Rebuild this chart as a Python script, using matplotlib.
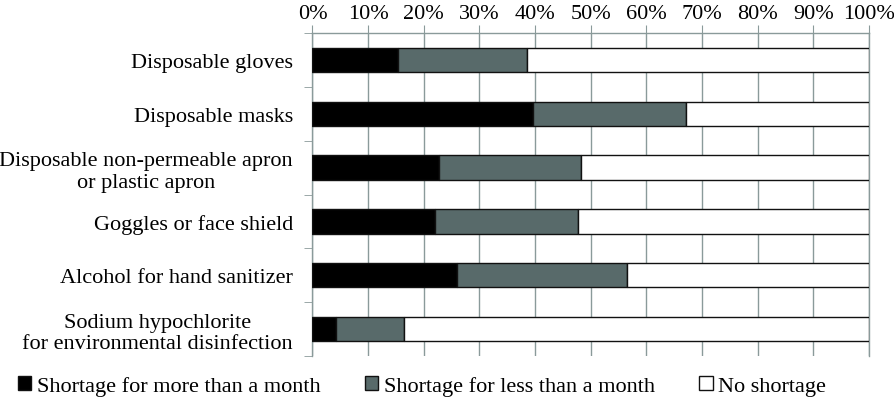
import numpy as np
import matplotlib
matplotlib.use('Agg')
import matplotlib.pyplot as plt
from matplotlib.patches import Patch

plt.rcParams['font.family'] = ['Liberation Serif', 'DejaVu Serif']

# data (percent of respondents)
items = ['Disposable gloves',
         'Disposable masks',
         'Disposable non-permeable apron\nor plastic apron',
         'Goggles or face shield',
         'Alcohol for hand sanitizer',
         'Sodium hypochlorite\nfor environmental disinfection']
more_month = [15.3, 39.6, 22.7, 22.1, 25.9, 4.3]
less_month = [23.2, 27.6, 25.5, 25.6, 30.7, 12.2]
no_short = [100 - a - b for a, b in zip(more_month, less_month)]
series_names = ['Shortage for more than a month',
                'Shortage for less than a month',
                'No shortage']
colors = ['#000000', '#586a6a', '#ffffff']


def main():
    fig = plt.figure(figsize=(8.95, 4.02), dpi=100)
    ax = fig.add_axes([312.5 / 895, 1 - 357 / 402, 556.5 / 895, 323 / 402])

    y = np.arange(len(items))
    left = np.zeros(len(items))
    for vals, col, name in zip([more_month, less_month, no_short], colors, series_names):
        ax.barh(y, vals, left=left, height=0.45, color=col, edgecolor='#111111',
                linewidth=1.0, label=name, zorder=3)
        left += np.array(vals)

    ax.set_xlim(0, 100)
    ax.set_ylim(len(items) - 0.5, -0.5)
    ax.xaxis.tick_top()
    ax.set_xticks(np.arange(0, 101, 10))
    ax.set_xticklabels([f'{v}%' for v in range(0, 101, 10)], fontsize=16)
    ax.tick_params(axis='x', length=6, color='#8a9a9a', pad=1.5)
    ax.grid(axis='x', color='#8a9a9a', linewidth=1.0, zorder=0)

    # category labels centred on bars, separator ticks between bands
    ax.set_yticks(y)
    ax.set_yticklabels(items, fontsize=16, multialignment='center')
    ax.tick_params(axis='y', which='major', length=0, pad=14)
    ax.set_yticks(np.arange(-0.5, len(items), 1), minor=True)
    ax.tick_params(axis='y', which='minor', length=6, color='#8a9a9a')

    for side in ['top', 'left', 'right']:
        ax.spines[side].set_color('#8a9a9a')
        ax.spines[side].set_linewidth(1.0)
    ax.spines['bottom'].set_visible(False)

    handles = [Patch(facecolor=c, edgecolor='#111111', linewidth=1.0) for c in colors]
    fig.legend(handles, series_names, loc='center', bbox_to_anchor=(422 / 895, 1 - 387 / 402),
               ncol=3, frameon=False, fontsize=16, handlelength=0.6, handleheight=0.6,
               handletextpad=0.25, columnspacing=2.0, borderaxespad=0, borderpad=0)

    fig.savefig('out.png', dpi=100)


if __name__ == '__main__':
    main()
